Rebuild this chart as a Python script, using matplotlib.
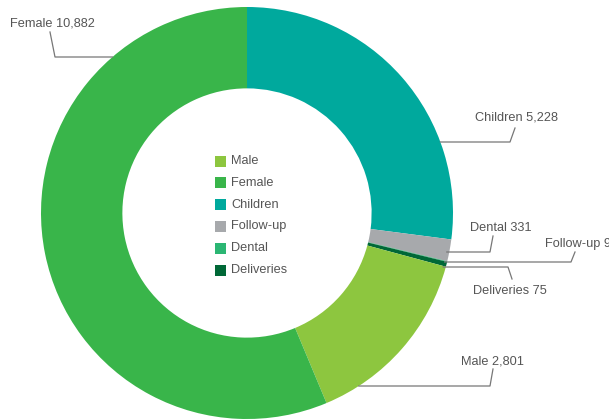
import numpy as np
import matplotlib.pyplot as plt
from matplotlib.patches import Rectangle

# data, clockwise from 12 o'clock
labels = ['Children', 'Dental', 'Follow-up', 'Deliveries', 'Male', 'Female']
values = [5228, 331, 9, 75, 2801, 10882]
colors = ['#00a99d', '#a7a9ac', '#2bb673', '#006837', '#8dc63f', '#39b54a']
label_text = ['Children 5,228', 'Dental 331', 'Follow-up 9', 'Deliveries 75', 'Male 2,801', 'Female 10,882']

legend_names = ['Male', 'Female', 'Children', 'Follow-up', 'Dental', 'Deliveries']
legend_colors = ['#8dc63f', '#39b54a', '#00a99d', '#a7a9ac', '#2bb673', '#006837']

plt.rcParams['font.family'] = ['Liberation Sans', 'DejaVu Sans']

W, H = 609, 420
cx, cy, R = 247, 213, 206  # pixel centre / radius

fig = plt.figure(figsize=(W / 100, H / 100), dpi=100)
ax = fig.add_axes([0, 0, 1, 1])

ax.pie(values, colors=colors, startangle=90, counterclock=False, radius=1,
       wedgeprops=dict(width=0.395, linewidth=0))
ax.set_aspect('auto')
ax.set_xlim(-cx / R, (W - cx) / R)
ax.set_ylim(-(H - cy) / R, cy / R)
ax.axis('off')


def p(x, y):
    # pixel (from top-left) -> data
    return (x - cx) / R, (cy - y) / R


def edge_x(y, side):
    dy = (cy - y) / R
    return side * np.sqrt(max(1 - dy * dy, 0))


# label layout: text pos (px), slanted tick top, elbow, side of circle
layout = {
    'Children 5,228': dict(t=(475, 118), a=(515, 128), b=(510, 142), side=1),
    'Dental 331': dict(t=(470, 228), a=(493, 236), b=(490, 252), side=1),
    'Follow-up 9': dict(t=(545, 244), a=(575, 252), b=(571, 262), side=1),
    'Deliveries 75': dict(t=(473, 291), a=(512, 279), b=(508, 267), side=1),
    'Male 2,801': dict(t=(461, 362), a=(493, 369), b=(490, 386), side=1),
    'Female 10,882': dict(t=(10, 23), a=(50, 32), b=(55, 57), side=-1),
}

for txt in label_text:
    L = layout[txt]
    ax.text(*p(*L['t']), txt, fontsize=9.2, color='#555555', va='center', ha='left')
    ex = edge_x(L['b'][1], L['side'])
    if txt in ('Dental 331', 'Follow-up 9', 'Deliveries 75'):
        ex -= 0.012
    xa, ya = p(*L['a'])
    xb, yb = p(*L['b'])
    ax.plot([xa, xb, ex], [ya, yb, yb], color='#777777', lw=0.9, clip_on=False)

# legend in the hole
for i, (name, col) in enumerate(zip(legend_names, legend_colors)):
    y = 161 + i * 21.8
    x0, y0 = p(215, y + 5.5)
    ax.add_patch(Rectangle((x0, y0), 11 / R, 11 / R, color=col, lw=0))
    ax.text(*p(231, y), name, fontsize=9.2, color='#555555', va='center', ha='left')

fig.savefig('out.png', dpi=100)
